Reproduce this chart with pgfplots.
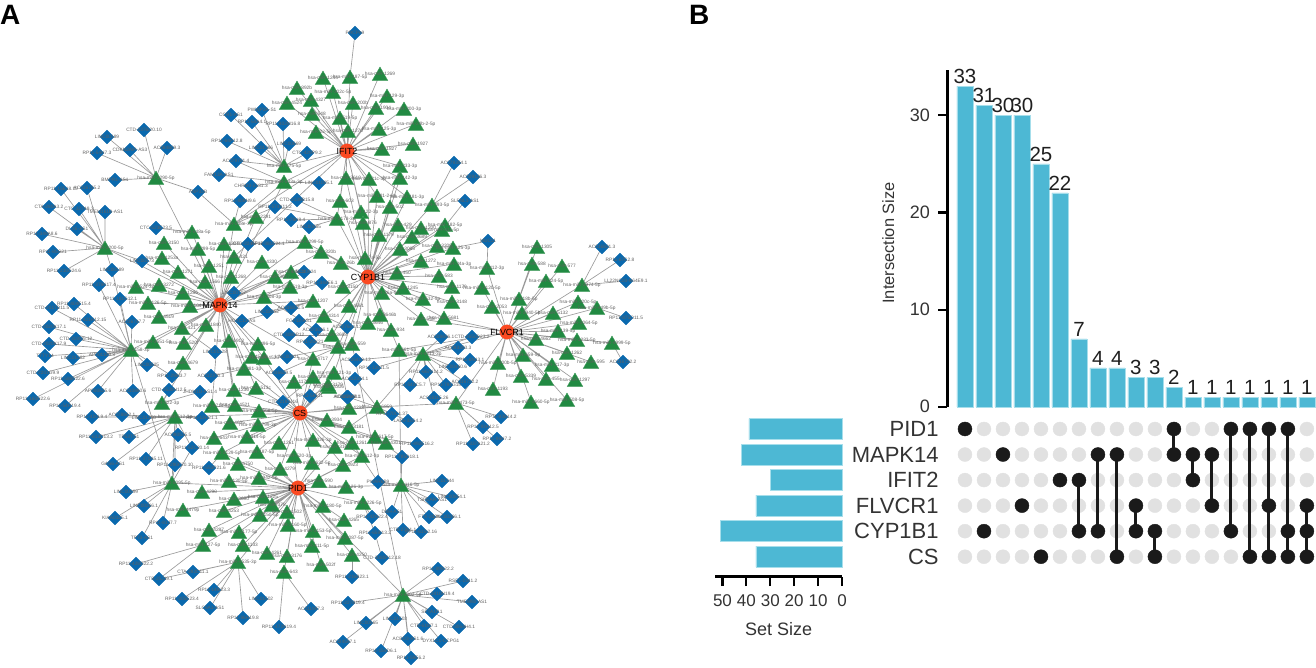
\documentclass[border=0pt]{standalone}
\usepackage{fontspec}
\setmainfont{Liberation Sans}
\usepackage{pgfplots}
\usepackage{pgfplotstable}
\pgfplotsset{compat=1.18}
\pgfplotsset{/pgf/number format/assume math mode=true}

\definecolor{bluebar}{HTML}{4DB8D4}
\definecolor{barline}{HTML}{A6DEEB}
\definecolor{netgreen}{HTML}{218A42}
\definecolor{netblue}{HTML}{0A69AE}
\definecolor{netred}{HTML}{FB4A22}
\definecolor{edgegray}{HTML}{9A9A9A}
\definecolor{dotgray}{HTML}{E1E1E1}
\definecolor{dotblack}{HTML}{1A1A1A}
\definecolor{axtext}{HTML}{333333}

% network nodes, in picture pixels
\pgfplotstableread{
x y n
323 78 hsa-miR-1244
350 77 hsa-miR-187-5p
380 74 hsa-miR-1269
297 88 hsa-miR-892b
311 100 hsa-miR-4327
287 103 hsa-miR-4524
312 114 hsa-miR-548
333 92 hsa-miR-302c-5p
353 103 hsa-miR-200b
387 96 hsa-miR-129-3p
376 108 hsa-miR-1904
404 109 hsa-miR-200-3p
340 118 hsa-miR-519-5p
316 132 hsa-miR-22-5p
348 131 hsa-miR-1270
379 129 hsa-miR-125-3p
416 124 hsa-miR-29b-2-5p
382 149 hsa-miR-1827
413 144 hsa-miR-1927
400 166 hsa-miR-233-3p
400 178 hsa-miR-142-3p
346 178 hsa-miR-3619
369 179 hsa-miR-21c-3p
340 201 hsa-miR-603
377 196 hsa-miR-181-2-3p
407 197 hsa-miR-181-3p
390 207 hsa-miR-502
361 212 hsa-miR-122-3p
363 223 hsa-miR-876
337 219 hsa-miR-3173-3p
432 205 hsa-miR-493-5p
398 225 hsa-miR-429
445 225 hsa-miR-182-5p
442 230 hsa-miR-411-5p
421 228 hsa-miR-1200
412 237 hsa-miR-3689
379 235 hsa-miR-1179
400 249 hsa-miR-3065
437 246 hsa-miR-3209
453 248 hsa-miR-125-3p
421 261 hsa-miR-1272
454 264 hsa-miR-34a-3p
397 273 hsa-miR-450
439 276 hsa-miR-583
365 258 hsa-miR-7a-5p
341 263 hsa-miR-26b
343 287 hsa-miR-3150
382 293 hsa-miR-26a-5p
403 288 hsa-miR-1245
423 299 hsa-miR-532-5p
452 287 hsa-miR-1179
452 302 hsa-miR-3148
349 306 hsa-miR-4661
368 323 hsa-miR-3646
380 315 hsa-miR-3646b
391 330 hsa-miR-934
421 319 hsa-miR-548
444 318 hsa-miR-5681
324 316 hsa-miR-4314
332 335 hsa-miR-3668
338 347 hsa-miR-1245
352 344 hsa-miR-559
399 350 hsa-miR-661-5p
423 354 hsa-miR-4713-3p
334 373 hsa-miR-121-3p
329 387 hsa-miR-4306
487 268 hsa-miR-412-3p
482 288 hsa-miR-3120-5p
492 307 hsa-miR-2053
537 247 hsa-miR-1305
532 264 hsa-miR-588
562 266 hsa-miR-577
546 281 hsa-miR-224-5p
582 285 hsa-miR-3974-5p
519 299 hsa-miR-618b-5p
522 313 hsa-miR-3940-5p
578 302 hsa-miR-320c-5p
597 308 hsa-miR-449b-5p
553 313 hsa-miR-5132
579 323 hsa-miR-3064-5p
558 331 hsa-miR-139-5p
536 339 hsa-miR-4662
577 340 hsa-miR-1233-5p
612 343 hsa-miR-4999-5p
567 353 hsa-miR-1262
591 362 hsa-miR-595
523 355 hsa-miR-659-5p
498 363 hsa-miR-300b-5p
552 365 hsa-miR-217-3p
575 380 hsa-miR-1297
546 379 hsa-miR-455
521 376 hsa-miR-5339
493 389 hsa-miR-1193
531 402 hsa-miR-3660-5p
567 400 hsa-miR-508-5p
156 178 hsa-miR-1290-5p
105 248 hsa-miR-3200-5p
131 350 hsa-miR-3158-3p
192 232 hsa-miR-548a-5p
164 243 hsa-miR-3150
198 249 hsa-miR-299-5p
162 258 hsa-miR-1253a
178 272 hsa-miR-1271
209 266 hsa-miR-1251
136 287 hsa-miR-4524-3p
159 285 hsa-miR-3272
183 293 hsa-miR-1286
205 282 hsa-miR-1566
231 277 hsa-miR-1268
234 257 hsa-miR-421
224 244 hsa-miR-1204
234 224 hsa-miR-548e-3p
256 217 hsa-miR-2291
284 166 hsa-miR-175-5p
284 182 hsa-miR-543a-3p
305 242 hsa-miR-4299-5p
321 252 hsa-miR-320b
262 262 hsa-miR-4330
275 277 hsa-miR-3607
291 272 hsa-miR-6511
290 287 hsa-miR-519-3p
264 297 hsa-miR-208-3p
313 301 hsa-miR-1207
148 303 hsa-miR-3126-5p
159 317 hsa-miR-4519
190 306 hsa-miR-2104-3p
206 325 hsa-miR-1840
182 328 hsa-miR-421
153 342 hsa-miR-3651-5p
184 343 hsa-miR-520f
229 341 hsa-miR-1913
258 344 hsa-miR-496-5p
183 363 hsa-miR-4679
252 357 hsa-miR-4518b
264 358 hsa-miR-4525
244 369 hsa-miR-381-3p
313 359 hsa-miR-4717
234 390 hsa-miR-1236
256 388 hsa-miR-513c
294 382 hsa-miR-1179
313 377 hsa-miR-4290
328 385 hsa-miR-3179
162 403 hsa-miR-522-3p
175 417 hsa-miR-512-3p
212 406 hsa-miR-4714-5p
235 405 hsa-miR-4521
259 411 hsa-miR-3668-5p
230 423 hsa-miR-4635
258 425 hsa-miR-4799-3p
327 420 hsa-miR-3934
349 408 hsa-miR-4298
377 407 hsa-miR-6859
214 438 hsa-miR-643
247 437 hsa-miR-3914-5p
279 443 hsa-miR-1251
313 440 hsa-miR-4326-3p
335 447 hsa-miR-3161
349 427 hsa-miR-3181
375 437 hsa-miR-3617-5p
386 443 hsa-miR-4301
352 443 hsa-miR-1261
222 453 hsa-miR-3129-5p
257 452 hsa-miR-187-5p
294 456 hsa-miR-520-3p
312 463 hsa-miR-4632-5p
343 465 hsa-miR-3923
362 456 hsa-miR-612-3p
238 464 hsa-miR-4750
280 469 hsa-miR-4279
259 478 hsa-miR-3942-5p
229 481 hsa-miR-3130-5p
319 481 hsa-miR-590
346 487 hsa-miR-126-3p
172 483 hsa-miR-5095-5p
202 492 hsa-miR-4290
263 497 hsa-miR-1225
272 505 hsa-miR-378
234 499 hsa-miR-3690
183 510 hsa-miR-4479p
224 511 hsa-miR-4253
323 506 hsa-miR-3180-5p
363 503 hsa-miR-4226-5p
287 512 hsa-miR-1502
260 515 hsa-miR-3150-5p
288 525 hsa-miR-3160-5p
344 520 hsa-miR-4265
209 530 hsa-miR-4287
239 532 hsa-miR-1177-5p
313 531 hsa-miR-3153-5p
345 538 hsa-miR-5087-5p
203 545 hsa-miR-127-5p
243 545 hsa-miR-1133
312 546 hsa-miR-411-5p
267 553 hsa-miR-4261
287 556 hsa-miR-3176
352 555 hsa-miR-4250
238 562 hsa-miR-4535-3p
321 565 hsa-miR-502f
284 572 hsa-miR-643
401 485 hsa-miR-4116-5p
403 595 hsa-miR-4802-5p
456 403 hsa-miR-4473-5p
}\trinodes

\pgfplotstableread{
x y n
355 33 PRCPe9
144 130 CTD-2376I20.10
107 137 LINC00189
130 150 CDKN2AIP-AS3
167 148 AC084809.3
97 153 RP11-54H7.3
115 180 BMPR1-AS1
198 192 ANP32B
61 189 RP11-15E18.10
87 188 AC016735.2
49 207 CTA-280A3.2
79 209 CTC-327A9.3
105 212 TMEM161B-AS1
77 229 DLX6-AS1
42 234 RP11-349A8.6
53 252 RP11-85G21
64 271 RP11-210G24.6
142 261 LINC00173
112 270 LINC00189
99 285 RP11-379K17.4
120 299 RP11-181G12.1
74 304 RP11-404F15.4
52 308 CTD-2017D11.5
88 320 RP11-421H12.15
49 327 CTD-2020K17.1
132 322 AC016747.7
156 228 CTC-523E23.5
231 115 CCR1-AS1
262 110 PWWP2A-S1
252 122 RP11-54A4.1
283 124 RP11-802M16.8
227 141 RP11-64P12.8
261 148 LINC01366
289 144 LINC00669
307 153 CTC-429P9.2
236 161 AC079781.4
219 175 FAM13A-AS1
251 186 CHRM3-2181.3
319 183 LINC01005.1
240 201 RP11-809N9.6
297 200 CTD-2139B15.8
275 207 RP11-574K11.2
291 220 RP11-78H8.4
309 227 LINC00685
248 244 CTD-2245F17
268 244 RP11-381E24.1
304 272 LINC00924
322 283 RP11-344E6.1
234 293 LINC00707
267 312 LINC02552
291 308 AC016831.5
299 321 FGF12-AS1
242 321 HOXC13-AS
316 330 AC073046.1
289 335 CTD-3080P12
310 342 RP11-25K21
347 327 AC027644.13
76 339 CTD-3195I5.12
49 344 CTD-2020K17.9
45 356 TTTY14
73 358 LINC01282
102 355 AP001189.3
43 373 CTD-2201G9.9
68 379 RP11-588K22.6
33 399 RP11-160H22.6
98 391 AP000525.6
133 391 AC010890.6
65 406 RP11-54H19.4
147 365 LINC00525
172 376 RP11-298I3.7
211 376 AC012370.3
215 352 LINC01128
169 390 CTD-2530H12.5
200 392 JHDM1D-AS1.4
92 417 RP11-420L9.4
122 415 AC078842.1
144 418 LINC01250
96 437 RP11-613D13.2
129 437 TP53TG1
113 464 GAS6-AS1
178 435 AC090515.5
192 448 RP11-52C20.14
146 459 RP11-370A5.11
175 465 RP11-290F20.10
202 418 RP11-13H21.1
209 468 RP11-553P21.6
126 492 LINC00299
144 506 LINC00266.1
115 518 KIAA0125.1
163 523 RP11-81J7.7
142 538 TP73-AS1
136 564 RP11-428G22.2
159 579 CTB-25J19.1
193 572 CTA-392C11.1
214 590 RP11-149I23.3
182 599 RP11-305E23.4
210 608 SLC6A1-AS1
243 618 RP11-96H19.8
261 599 LINC01502
279 627 RP11-472N19.4
311 609 AC011997.3
287 357 LINC00921
279 373 AC016629.5
283 402 CTD-2192J16
310 396 RP11-561J1
347 397 AC025442.1
356 360 AC025419.13
374 368 RP11-120J1.5
355 379 AC012354.1
348 397 AC022098.1
441 337 AC008696.1
472 337 CTD-2650D23.2
458 348 AC093393.3
470 360 RP11-6N13.1
453 367 LINC00460.6
426 372 RP11-667K14.2
465 382 AC016722.2
446 385 RP11-791G15
410 385 RP11-543C5.7
434 398 AC008115.26
392 414 RP11-70C1.37
408 421 LA16-33G4.2
417 444 RP11-492E16.2
402 457 RP11-785D18.1
501 417 RP11-93B14.2
483 427 RP11-93H12.5
497 439 RP11-96H7.2
473 444 RP11-337A21.2
378 482 PWAR6B9
442 481 LINC01344
432 500 TSPEAR-AS1
452 497 LINC00854.1
392 512 DBH-AS1
429 517 FTX-2034
447 517 LINC00266.1
372 517 RP11-42N22.4
375 533 RP11-659I13.2
403 530 CTB-27N1.1
421 532 RP11-615I2.16
382 558 CTD-3080P12.18
352 577 RP11-216B23.1
438 569 RP11-89N22.2
463 581 RSF1-2341.2
437 594 CTD-2410N19.4
472 602 TMEM92-AS1
348 603 RP11-227B19.4
432 612 SFTA1P.1
395 619 LINC01503
459 627 CTD-3064H4.1
366 623 LINC00665
424 626 CTB-61M7.1
408 639 ACBD3-AS1.6
441 641 DYX1C1-CCPG1
343 642 AC024597.1
381 651 RP11-154D6.1
411 658 RP11-59E6.2
488 241 MUC11
454 163 AC079354.1
473 177 AC009126.3
465 201 SLFNL1-AS1
602 247 AC016821.3
620 260 RP11-67C2.8
626 281 LL22NC03-N64E9.1
626 318 RP11-875O11.5
623 362 AC016722.2
}\dianodes

\pgfplotstableread{
x y n
347 151 IFIT2
368 277 CYP1B1
220 305 MAPK14
507 332 FLVCR1
300 413 CS
298 488 PID1
}\hubnodes

% upset tables
\pgfplotstableread{
col size
0 33
1 31
2 30
3 30
4 25
5 22
6 7
7 4
8 4
9 3
10 3
11 2
12 1
13 1
14 1
15 1
16 1
17 1
18 1
}\intersections

\pgfplotstableread{
size row
39 0
42 1
30 2
36 3
51 4
36 5
}\setsizes

\pgfplotstableread{
col row
0 0
1 4
2 1
3 3
4 5
5 2
6 2
6 4
7 1
7 4
8 1
8 5
9 3
9 4
10 4
10 5
11 0
11 1
12 1
12 2
13 1
13 3
14 0
14 4
15 0
15 5
16 0
16 3
16 5
17 0
17 4
17 5
18 3
18 4
18 5
}\memberdots

\pgfplotstableread{
col row
6 2
6 4
nan nan
7 1
7 4
nan nan
8 1
8 5
nan nan
9 3
9 4
nan nan
10 4
10 5
nan nan
11 0
11 1
nan nan
12 1
12 2
nan nan
13 1
13 3
nan nan
14 0
14 4
nan nan
15 0
15 5
nan nan
16 0
16 5
nan nan
17 0
17 5
nan nan
18 3
18 5
}\memberlines

\begin{document}
\begin{tikzpicture}
\path[use as bounding box] (0,0) rectangle (1316pt,667pt);

% A: network
\begin{axis}[
  at={(0pt,0pt)}, anchor=south west,
  width=1316pt, height=667pt, scale only axis,
  xmin=0, xmax=1316, ymin=0, ymax=667, y dir=reverse,
  hide axis, clip=false]
% mirna to gene
\addplot[edgegray, line width=0.65pt] coordinates {(347,151)(323,78)(347,151)(350,77)(347,151)(380,74)(347,151)(297,88)(347,151)(311,100)(347,151)(287,103)(347,151)(312,114)(347,151)(333,92)(347,151)(353,103)(347,151)(387,96)(347,151)(376,108)(347,151)(404,109)(347,151)(340,118)(347,151)(316,132)(347,151)(348,131)(347,151)(379,129)(347,151)(416,124)(347,151)(382,149)(347,151)(413,144)(347,151)(346,178)(347,151)(369,179)(347,151)(400,166)(347,151)(400,178)(347,151)(340,201)(347,151)(377,196)(347,151)(407,197)(347,151)(361,212)(347,151)(363,223)(347,151)(337,219)(347,151)(284,166)(347,151)(284,182)(347,151)(234,224)(347,151)(234,257)};
\addplot[edgegray, line width=0.65pt] coordinates {(368,277)(346,178)(368,277)(369,179)(368,277)(400,166)(368,277)(400,178)(368,277)(340,201)(368,277)(377,196)(368,277)(407,197)(368,277)(361,212)(368,277)(363,223)(368,277)(337,219)(368,277)(390,207)(368,277)(432,205)(368,277)(398,225)(368,277)(445,225)(368,277)(442,230)(368,277)(421,228)(368,277)(412,237)(368,277)(379,235)(368,277)(400,249)(368,277)(437,246)(368,277)(453,248)(368,277)(421,261)(368,277)(454,264)(368,277)(397,273)(368,277)(439,276)(368,277)(365,258)(368,277)(341,263)(368,277)(321,252)(368,277)(305,242)(368,277)(343,287)(368,277)(382,293)(368,277)(403,288)(368,277)(423,299)(368,277)(452,287)(368,277)(452,302)(368,277)(349,306)(368,277)(368,323)(368,277)(380,315)(368,277)(391,330)(368,277)(421,319)(368,277)(444,318)(368,277)(324,316)(368,277)(332,335)(368,277)(338,347)(368,277)(352,344)(368,277)(399,350)(368,277)(334,373)(368,277)(329,387)};
\addplot[edgegray, line width=0.65pt] coordinates {(220,305)(156,178)(220,305)(105,248)(220,305)(131,350)(220,305)(192,232)(220,305)(164,243)(220,305)(198,249)(220,305)(162,258)(220,305)(178,272)(220,305)(209,266)(220,305)(136,287)(220,305)(159,285)(220,305)(183,293)(220,305)(205,282)(220,305)(231,277)(220,305)(234,257)(220,305)(224,244)(220,305)(234,224)(220,305)(256,217)(220,305)(305,242)(220,305)(321,252)(220,305)(262,262)(220,305)(275,277)(220,305)(291,272)(220,305)(290,287)(220,305)(264,297)(220,305)(313,301)(220,305)(148,303)(220,305)(159,317)(220,305)(190,306)(220,305)(206,325)(220,305)(182,328)(220,305)(153,342)(220,305)(184,343)(220,305)(229,341)(220,305)(258,344)(220,305)(183,363)(220,305)(252,357)(220,305)(264,358)(220,305)(244,369)(220,305)(234,390)(220,305)(256,388)(220,305)(162,403)(220,305)(212,406)(220,305)(235,405)(220,305)(313,359)(220,305)(284,182)};
\addplot[edgegray, line width=0.65pt] coordinates {(507,332)(537,247)(507,332)(532,264)(507,332)(562,266)(507,332)(546,281)(507,332)(582,285)(507,332)(519,299)(507,332)(522,313)(507,332)(578,302)(507,332)(597,308)(507,332)(553,313)(507,332)(579,323)(507,332)(558,331)(507,332)(536,339)(507,332)(577,340)(507,332)(612,343)(507,332)(567,353)(507,332)(591,362)(507,332)(523,355)(507,332)(498,363)(507,332)(552,365)(507,332)(575,380)(507,332)(546,379)(507,332)(521,376)(507,332)(493,389)(507,332)(531,402)(507,332)(567,400)(507,332)(487,268)(507,332)(482,288)(507,332)(492,307)(507,332)(444,318)(507,332)(421,319)(507,332)(423,354)(507,332)(399,350)(507,332)(456,403)};
\addplot[edgegray, line width=0.65pt] coordinates {(300,413)(175,417)(300,413)(212,406)(300,413)(235,405)(300,413)(259,411)(300,413)(230,423)(300,413)(258,425)(300,413)(294,382)(300,413)(313,377)(300,413)(313,359)(300,413)(328,385)(300,413)(334,373)(300,413)(329,387)(300,413)(327,420)(300,413)(349,408)(300,413)(377,407)(300,413)(214,438)(300,413)(247,437)(300,413)(279,443)(300,413)(313,440)(300,413)(335,447)(300,413)(349,427)(300,413)(294,456)(300,413)(312,463)(300,413)(343,465)(300,413)(375,437)(300,413)(386,443)(300,413)(352,443)(300,413)(257,452)(300,413)(222,453)(300,413)(280,469)(300,413)(234,390)(300,413)(256,388)(300,413)(244,369)(300,413)(252,357)(300,413)(264,358)(300,413)(338,347)(300,413)(362,456)};
\addplot[edgegray, line width=0.65pt] coordinates {(298,488)(172,483)(298,488)(202,492)(298,488)(183,510)(298,488)(234,499)(298,488)(224,511)(298,488)(229,481)(298,488)(259,478)(298,488)(238,464)(298,488)(222,453)(298,488)(257,452)(298,488)(280,469)(298,488)(294,456)(298,488)(312,463)(298,488)(319,481)(298,488)(346,487)(298,488)(263,497)(298,488)(272,505)(298,488)(287,512)(298,488)(260,515)(298,488)(323,506)(298,488)(363,503)(298,488)(344,520)(298,488)(288,525)(298,488)(313,531)(298,488)(345,538)(298,488)(239,532)(298,488)(209,530)(298,488)(243,545)(298,488)(203,545)(298,488)(312,546)(298,488)(267,553)(298,488)(287,556)(298,488)(352,555)(298,488)(321,565)(298,488)(238,562)(298,488)(284,572)(298,488)(403,595)(298,488)(335,447)(298,488)(362,456)(298,488)(343,465)(298,488)(401,485)};
% lncrna to mirna
\addplot[edgegray, line width=0.65pt] coordinates {(156,178)(144,130)(156,178)(107,137)(156,178)(130,150)(156,178)(167,148)(156,178)(97,153)(156,178)(115,180)(156,178)(198,192)(234,224)};
\addplot[edgegray, line width=0.65pt] coordinates {(105,248)(61,189)(105,248)(87,188)(105,248)(49,207)(105,248)(79,209)(105,248)(105,212)(105,248)(77,229)(105,248)(42,234)(105,248)(53,252)(105,248)(64,271)(105,248)(142,261)(220,305)(142,261)(105,248)(112,270)(131,350)};
\addplot[edgegray, line width=0.65pt] coordinates {(284,166)(231,115)(284,166)(262,110)(284,166)(252,122)(284,166)(283,124)(284,166)(227,141)(284,166)(261,148)(284,166)(289,144)(284,166)(307,153)(284,166)(236,161)};
\addplot[edgegray, line width=0.65pt] coordinates {(284,182)(236,161)(284,182)(219,175)(284,182)(251,186)(284,182)(319,183)(284,182)(234,224)(240,201)(234,224)(275,207)(337,219)(297,200)(337,219)(291,220)(337,219)(309,227)(337,219)(275,207)};
\addplot[edgegray, line width=0.65pt] coordinates {(131,350)(76,339)(131,350)(49,344)(131,350)(45,356)(131,350)(73,358)(131,350)(102,355)(131,350)(43,373)(131,350)(68,379)(131,350)(33,399)(131,350)(98,391)(131,350)(133,391)(131,350)(65,406)(131,350)(147,365)(131,350)(172,376)(131,350)(74,304)(131,350)(52,308)(131,350)(88,320)(131,350)(49,327)(131,350)(132,322)(131,350)(99,285)(131,350)(120,299)(131,350)(172,483)};
\addplot[edgegray, line width=0.65pt] coordinates {(175,417)(92,417)(175,417)(122,415)(175,417)(144,418)(175,417)(96,437)(175,417)(129,437)(175,417)(113,464)(175,417)(178,435)(175,417)(192,448)(175,417)(146,459)(175,417)(175,465)(175,417)(202,418)(175,417)(172,483)};
\addplot[edgegray, line width=0.65pt] coordinates {(172,483)(126,492)(172,483)(144,506)(172,483)(115,518)(172,483)(163,523)(172,483)(142,538)(172,483)(175,465)(172,483)(192,448)};
\addplot[edgegray, line width=0.65pt] coordinates {(238,562)(193,572)(238,562)(214,590)(238,562)(182,599)(238,562)(210,608)(238,562)(243,618)(238,562)(261,599)(238,562)(159,579)(203,545)(136,564)};
\addplot[edgegray, line width=0.65pt] coordinates {(311,609)(284,572)(279,627)};
\addplot[edgegray, line width=0.65pt] coordinates {(401,485)(378,482)(401,485)(442,481)(401,485)(432,500)(401,485)(452,497)(401,485)(429,517)(401,485)(447,517)(401,485)(403,530)(401,485)(421,532)(401,485)(392,512)(401,485)(402,457)(375,437)(402,457)(401,485)(399,350)};
\addplot[edgegray, line width=0.65pt] coordinates {(403,595)(438,569)(403,595)(463,581)(403,595)(437,594)(403,595)(472,602)(403,595)(432,612)(403,595)(395,619)(403,595)(459,627)(403,595)(366,623)(403,595)(424,626)(403,595)(408,639)(403,595)(441,641)(403,595)(343,642)(403,595)(381,651)(403,595)(411,658)(403,595)(348,603)(403,595)(352,344)};
\addplot[edgegray, line width=0.65pt] coordinates {(423,354)(441,337)(423,354)(472,337)(423,354)(458,348)(423,354)(470,360)(423,354)(453,367)(423,354)(426,372)(423,354)(465,382)(423,354)(446,385)(423,354)(410,385)(423,354)(434,398)(423,354)(356,360)(423,354)(374,368)(423,354)(377,407)(349,427)};
\addplot[edgegray, line width=0.65pt] coordinates {(456,403)(501,417)(456,403)(483,427)(456,403)(497,439)(456,403)(473,444)(456,403)(377,407)(392,414)(377,407)(408,421)(377,407)(355,379)(377,407)(348,397)};
\addplot[edgegray, line width=0.65pt] coordinates {(350,77)(355,33)};
\addplot[edgegray, line width=0.65pt] coordinates {(432,205)(454,163)(432,205)(473,177)};
\addplot[edgegray, line width=0.65pt] coordinates {(442,230)(465,201)};
\addplot[edgegray, line width=0.65pt] coordinates {(453,248)(488,241)(487,268)};
\addplot[edgegray, line width=0.65pt] coordinates {(582,285)(602,247)(582,285)(620,260)(582,285)(626,281)};
\addplot[edgegray, line width=0.65pt] coordinates {(597,308)(626,318)};
\addplot[edgegray, line width=0.65pt] coordinates {(612,343)(623,362)};
\addplot[edgegray, line width=0.65pt] coordinates {(192,232)(156,228)};
\addplot[edgegray, line width=0.65pt] coordinates {(224,244)(248,244)(305,242)(268,244)};
\addplot[edgegray, line width=0.65pt] coordinates {(264,297)(304,272)(264,297)(322,283)(264,297)(316,330)};
\addplot[edgegray, line width=0.65pt] coordinates {(275,277)(234,293)};
\addplot[edgegray, line width=0.65pt] coordinates {(313,301)(291,308)(313,301)(267,312)(313,301)(242,321)};
\addplot[edgegray, line width=0.65pt] coordinates {(323,317)(299,321)};
\addplot[edgegray, line width=0.65pt] coordinates {(332,335)(289,335)};
\addplot[edgegray, line width=0.65pt] coordinates {(338,347)(310,342)(338,347)(287,357)(338,347)(279,373)(338,347)(347,397)};
\addplot[edgegray, line width=0.65pt] coordinates {(324,316)(347,327)};
\addplot[edgegray, line width=0.65pt] coordinates {(182,328)(215,352)};
\addplot[edgegray, line width=0.65pt] coordinates {(244,369)(211,376)};
\addplot[edgegray, line width=0.65pt] coordinates {(162,403)(169,390)(162,403)(200,392)};
\addplot[edgegray, line width=0.65pt] coordinates {(313,377)(283,402)};
\addplot[edgegray, line width=0.65pt] coordinates {(329,387)(310,396)};
\addplot[edgegray, line width=0.65pt] coordinates {(222,453)(209,468)};
\addplot[edgegray, line width=0.65pt] coordinates {(375,437)(417,444)};
\addplot[edgegray, line width=0.65pt] coordinates {(352,443)(378,482)};
\addplot[edgegray, line width=0.65pt] coordinates {(363,503)(372,517)(363,503)(375,533)(382,558)};
\addplot[edgegray, line width=0.65pt] coordinates {(352,555)(352,577)};
% nodes
\addplot[only marks, mark=triangle*, mark size=9pt, color=netgreen, mark options={draw=netgreen!85!white, fill=netgreen, yshift=-2pt}] table[x=x,y=y] {\trinodes};
\addplot[only marks, mark=square*, mark size=4.9pt, color=netblue, mark options={rotate=45, draw=netblue, fill=netblue}] table[x=x,y=y] {\dianodes};
\addplot[only marks, mark=*, mark size=7.2pt, color=netred, mark options={draw=netred, fill=netred}] table[x=x,y=y] {\hubnodes};
% node names
\addplot[draw=none, no markers, point meta=explicit symbolic, nodes near coords,
  nodes near coords align={center},
  every node near coord/.append style={font=\fontsize{4.8}{5}\selectfont, text=black!62, inner sep=0pt}]
  table[x=x,y=y,meta=n] {\trinodes};
\addplot[draw=none, no markers, point meta=explicit symbolic, nodes near coords,
  nodes near coords align={center},
  every node near coord/.append style={font=\fontsize{4.8}{5}\selectfont, text=black!62, inner sep=0pt}]
  table[x=x,y=y,meta=n] {\dianodes};
\addplot[draw=none, no markers, point meta=explicit symbolic, nodes near coords,
  nodes near coords align={center},
  every node near coord/.append style={font=\fontsize{8.9}{10}\selectfont, text=black, inner sep=0pt}]
  table[x=x,y=y,meta=n] {\hubnodes};
\node[anchor=base west, inner sep=0pt, font=\fontsize{28}{30}\selectfont\bfseries] at (axis cs:0,24) {A};
\node[anchor=base west, inner sep=0pt, font=\fontsize{28}{30}\selectfont\bfseries] at (axis cs:689,24) {B};
\end{axis}

% B: intersection sizes
\begin{axis}[
  at={(947.3pt,260.2pt)}, anchor=south west,
  width=368.7pt, height=336.3pt, scale only axis,
  xmin=-0.93, xmax=18.48, ymin=0, ymax=34.6,
  axis y line=left, axis x line=none,
  y axis line style={-, line width=2.8pt, black},
  xtick=\empty, ytick={0,10,20,30},
  tick align=outside, major tick length=9pt,
  every y tick/.style={black, line width=2.2pt},
  yticklabel style={font=\fontsize{18}{20}\selectfont, text=axtext, xshift=-5pt},
  ylabel={Intersection Size},
  every axis y label/.style={at={(axis description cs:-0.16,0.487)}, rotate=90, anchor=center, font=\fontsize{16.4}{18}\selectfont, text=axtext},
  clip=false,
  nodes near coords,
  every node near coord/.append style={font=\fontsize{20.5}{22}\selectfont, text=black!88, inner sep=0pt, anchor=south, yshift=2.2pt},
]
\addplot[ybar, bar width=16pt, bar shift=0pt, fill=bluebar, draw=barline, line width=0.5pt] table[x=col,y=size] {\intersections};
\end{axis}

% B: membership matrix
\begin{axis}[
  at={(947.3pt,97.5pt)}, anchor=south west,
  width=368.7pt, height=153.3pt, scale only axis,
  xmin=-0.93, xmax=18.48, ymin=-0.5, ymax=5.5, y dir=reverse,
  axis y line=left, axis x line=none,
  y axis line style={draw=none},
  xtick=\empty, ytick={0,1,2,3,4,5},
  yticklabels={PID1,MAPK14,IFIT2,FLVCR1,CYP1B1,CS},
  major tick length=0pt,
  every y tick/.style={draw=none},
  yticklabel style={font=\fontsize{22}{24}\selectfont, text=axtext, inner sep=0pt, anchor=east, xshift=-8.5pt},
  clip=false, clip mode=individual]
\addplot[only marks, mark=*, mark size=7pt, mark options={draw=dotgray, fill=dotgray}] coordinates {
(0,0)(1,0)(2,0)(3,0)(4,0)(5,0)(6,0)(7,0)(8,0)(9,0)(10,0)(11,0)(12,0)(13,0)(14,0)(15,0)(16,0)(17,0)(18,0)
(0,1)(1,1)(2,1)(3,1)(4,1)(5,1)(6,1)(7,1)(8,1)(9,1)(10,1)(11,1)(12,1)(13,1)(14,1)(15,1)(16,1)(17,1)(18,1)
(0,2)(1,2)(2,2)(3,2)(4,2)(5,2)(6,2)(7,2)(8,2)(9,2)(10,2)(11,2)(12,2)(13,2)(14,2)(15,2)(16,2)(17,2)(18,2)
(0,3)(1,3)(2,3)(3,3)(4,3)(5,3)(6,3)(7,3)(8,3)(9,3)(10,3)(11,3)(12,3)(13,3)(14,3)(15,3)(16,3)(17,3)(18,3)
(0,4)(1,4)(2,4)(3,4)(4,4)(5,4)(6,4)(7,4)(8,4)(9,4)(10,4)(11,4)(12,4)(13,4)(14,4)(15,4)(16,4)(17,4)(18,4)
(0,5)(1,5)(2,5)(3,5)(4,5)(5,5)(6,5)(7,5)(8,5)(9,5)(10,5)(11,5)(12,5)(13,5)(14,5)(15,5)(16,5)(17,5)(18,5)
};
\addplot[dotblack, line width=3pt, unbounded coords=jump] table[x=col,y=row] {\memberlines};
\addplot[only marks, mark=*, mark size=7pt, mark options={draw=dotblack, fill=dotblack}] table[x=col,y=row] {\memberdots};
\end{axis}

% B: set sizes
\begin{axis}[
  at={(715.3pt,90.3pt)}, anchor=south west,
  width=126.7pt, height=160.4pt, scale only axis,
  xmin=0, xmax=53, ymin=-0.5, ymax=5.79, y dir=reverse, x dir=reverse,
  axis x line=bottom, axis y line=none,
  x axis line style={-, line width=2.8pt, black},
  xtick={0,10,20,30,40,50}, ytick=\empty,
  tick align=outside, major tick length=9.5pt,
  every x tick/.style={black, line width=2.2pt},
  xticklabel style={font=\fontsize{17}{19}\selectfont, text=axtext, yshift=-5pt},
  xlabel={Set Size},
  xlabel style={font=\fontsize{18}{20}\selectfont, text=axtext, yshift=-9pt},
  clip=false]
\addplot[xbar, bar width=21pt, bar shift=0pt, fill=bluebar, draw=barline, line width=0.5pt] table[x=size,y=row] {\setsizes};
\end{axis}
\end{tikzpicture}
\end{document}
